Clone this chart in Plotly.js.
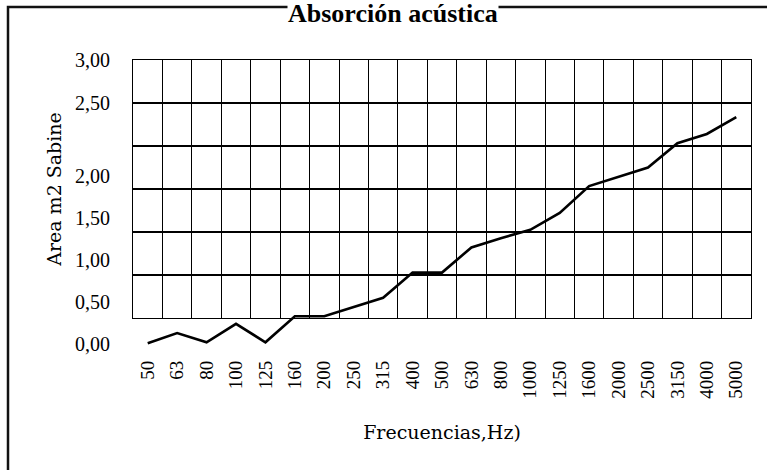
<!DOCTYPE html>
<html>
<head>
<meta charset="utf-8">
<script src="https://cdn.plot.ly/plotly-3.0.1.min.js"></script>
<style>
  html, body { margin: 0; padding: 0; background: #ffffff; overflow: hidden; }
  #chart { width: 767px; height: 470px; }
</style>
</head>
<body>
<div id="chart"></div>
<script>
// Frequency bands (Hz) — category labels
var freqLabels = ['50','63','80','100','125','160','200','250','315','400','500',
                  '630','800','1000','1250','1600','2000','2500','3150','4000','5000'];
// Absorption area (m2 Sabine)
var absorption = [0.01, 0.13, 0.02, 0.24, 0.02, 0.33, 0.33, 0.44, 0.55, 0.85, 0.85,
                  1.15, 1.26, 1.36, 1.56, 1.88, 1.99, 2.10, 2.39, 2.50, 2.70];
// Y tick labels and where they are printed in the picture (value units)
var yTickText = ['0,00','0,50','1,00','1,50','2,00','2,50','3,00'];
var yTickPos  = [0, 0.5, 1.0, 1.5, 2.0, 2.869, 3.38];
// Grid rows of the background box
var gridRows = [1, 2, 3, 4, 5];

var serif = 'Liberation Serif, Times New Roman, serif';
var serif2 = 'DejaVu Serif, serif';

var traces = [
  { // invisible trace that carries the category grid
    x: freqLabels, y: absorption.map(function(){ return null; }),
    xaxis: 'x', yaxis: 'y', mode: 'lines', hoverinfo: 'skip',
    line: {color: 'rgba(0,0,0,0)'}, showlegend: false
  },
  {
    x: freqLabels, y: absorption,
    xaxis: 'x2', yaxis: 'y2', mode: 'lines', hoverinfo: 'skip',
    line: {color: '#000000', width: 2.6}, showlegend: false
  }
];

var layout = {
  width: 767, height: 470,
  margin: {l: 133, r: 16, t: 60, b: 114},
  paper_bgcolor: 'rgba(0,0,0,0)',
  plot_bgcolor: 'rgba(0,0,0,0)',
  showlegend: false,
  font: {family: serif, color: '#000000', size: 19},
  xaxis: {
    type: 'category', categoryorder: 'array', categoryarray: freqLabels,
    range: [-0.5, freqLabels.length - 0.5], domain: [0, 1], anchor: 'y',
    tickson: 'boundaries', showgrid: true, gridcolor: '#000000', gridwidth: 1,
    showline: true, mirror: true, linecolor: '#000000', linewidth: 1,
    showticklabels: false, ticks: '', zeroline: false, fixedrange: true
  },
  yaxis: {
    range: [0, 6], domain: [0.12838, 1], anchor: 'x',
    tickvals: gridRows, showgrid: true, gridcolor: '#000000', gridwidth: 2,
    showline: true, mirror: true, linecolor: '#000000', linewidth: 1,
    showticklabels: false, ticks: '', zeroline: false, fixedrange: true,
    title: {text: 'Area m2 Sabine', font: {family: serif2, size: 19, color: '#000000'}, standoff: 65}
  },
  xaxis2: {
    type: 'category', categoryorder: 'array', categoryarray: freqLabels,
    range: [-0.5, freqLabels.length - 0.5], domain: [0, 1], anchor: 'y2',
    showgrid: false, showline: false, zeroline: false,
    ticks: '', tickangle: -90, tickfont: {family: serif, size: 19, color: '#000000'},
    fixedrange: true,
    title: {text: 'Frecuencias,Hz)', font: {family: serif2, size: 19, color: '#000000'}, standoff: 27}
  },
  yaxis2: {
    range: [-0.1429, 3.381], domain: [0, 1], anchor: 'x2',
    showgrid: false, showline: false, zeroline: false,
    tickmode: 'array', tickvals: yTickPos, ticktext: yTickText,
    ticks: 'outside', ticklen: 18, tickcolor: 'rgba(0,0,0,0)',
    tickfont: {family: serif, size: 20, color: '#000000'},
    fixedrange: true
  },
  shapes: [
    { type: 'rect', xref: 'paper', yref: 'paper', layer: 'below',
      x0: (8 - 133) / 618, x1: 1.5, y0: -1, y1: (356 - 7) / 296,
      line: {color: '#111111', width: 2.5}, fillcolor: 'rgba(0,0,0,0)' }
  ],
  annotations: [
    { text: '<b>Absorción acústica</b>', xref: 'paper', yref: 'paper',
      x: (393 - 133) / 618, y: (356 - 13) / 296, xanchor: 'center', yanchor: 'middle',
      showarrow: false, bgcolor: '#ffffff', borderpad: 0,
      font: {family: serif, size: 26, color: '#000000'} }
  ]
};

Plotly.newPlot('chart', traces, layout, {staticPlot: true, displayModeBar: false});
</script>
</body>
</html>
